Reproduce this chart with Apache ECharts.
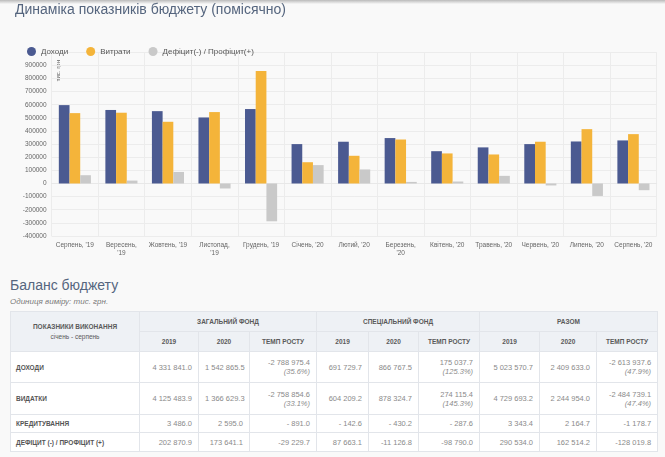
<!DOCTYPE html>
<html>
<head>
<meta charset="utf-8">
<script src="https://cdn.jsdelivr.net/npm/echarts@6/dist/echarts.min.js"></script>
<style>
  html, body { margin: 0; padding: 0; background: #f9f9f9; }
  body { width: 665px; height: 457px; position: relative; overflow: hidden; font-family: "Liberation Sans", Arial, sans-serif; }
  #topShadow { position: absolute; left: 0; top: 0; width: 665px; height: 4px; background: linear-gradient(#b9b9b9, rgba(249,249,249,0)); z-index: 5; }
  #chart { position: absolute; left: 0; top: 0; width: 665px; height: 270px; }
  #balTitle { position: absolute; left: 10px; top: 277px; font-size: 14px; line-height: 16px; color: #55657e; }
  #balSub { position: absolute; left: 10px; top: 297px; font-size: 8px; line-height: 9px; color: #7a7a7a; font-style: italic; }
  #tbl { position: absolute; left: 10px; top: 311px; border-collapse: collapse; table-layout: fixed; width: 647px; background: #fff; }
  #tbl td, #tbl th { border: 1px solid #e2e5ea; padding: 0 6px; font-size: 7.5px; color: #8a8a8a; text-align: right; white-space: nowrap; overflow: hidden; }
  #tbl th { background: #eef1f5; color: #5a5a5a; font-weight: bold; text-align: center; font-size: 6.5px; height: 19px; }
  #tbl th .sub { font-weight: normal; display: block; margin-top: 3px; }
  #tbl td.lbl { text-align: left; color: #555; font-weight: bold; font-size: 6.5px; padding-left: 5px; }
  #tbl td i { display: block; }
</style>
</head>
<body>
<div id="topShadow"></div>
<div id="chart"></div>
<div id="balTitle">Баланс бюджету</div>
<div id="balSub">Одиниця виміру: тис. грн.</div>
<table id="tbl"></table>
<script>
const months = ["Серпень, '19", "Вересень,\n'19", "Жовтень, '19", "Листопад,\n'19", "Грудень, '19", "Січень, '20", "Лютий, '20", "Березень,\n'20", "Квітень, '20", "Травень, '20", "Червень, '20", "Липень, '20", "Серпень, '20"];
const income   = [597000, 560000, 551000, 503000, 567000, 300000, 318000, 346000, 246000, 275000, 300000, 320000, 328000];
const expenses = [536000, 539000, 470000, 544000, 857000, 162000, 211000, 335000, 229000, 221000, 318000, 414000, 376000];
const balance  = [63000, 22000, 88000, -38000, -288000, 140000, 107000, 12000, 15000, 58000, -15000, -95000, -51000];
const seriesNames = ['Доходи', 'Витрати', 'Дефіцит(-) / Профіцит(+)'];

// table
const colWidths = [129, 59, 51, 67, 52, 50, 61, 60, 57, 61];
const fundNames = ['ЗАГАЛЬНИЙ ФОНД', 'СПЕЦІАЛЬНИЙ ФОНД', 'РАЗОМ'];
const subHeads = ['2019', '2020', 'ТЕМП РОСТУ'];
const rowLabels = ['ДОХОДИ', 'ВИДАТКИ', 'КРЕДИТУВАННЯ', 'ДЕФІЦИТ (-) / ПРОФІЦИТ (+)'];
const rowHeights = [31, 32, 18, 19];
const tableRows = [
  ['4 331 841.0', '1 542 865.5', ['-2 788 975.4', '(35.6%)'], '691 729.7', '866 767.5', ['175 037.7', '(125.3%)'], '5 023 570.7', '2 409 633.0', ['-2 613 937.6', '(47.9%)']],
  ['4 125 483.9', '1 366 629.3', ['-2 758 854.6', '(33.1%)'], '604 209.2', '878 324.7', ['274 115.4', '(145.3%)'], '4 729 693.2', '2 244 954.0', ['-2 484 739.1', '(47.4%)']],
  ['3 486.0', '2 595.0', '- 891.0', '- 142.6', '- 430.2', '- 287.6', '3 343.4', '2 164.7', '-1 178.7'],
  ['202 870.9', '173 641.1', '-29 229.7', '87 663.1', '-11 126.8', '-98 790.0', '290 534.0', '162 514.2', '-128 019.8']
];

let html = '<colgroup>' + colWidths.map(w => `<col style="width:${w}px">`).join('') + '</colgroup>';
html += '<tr><th rowspan="2">ПОКАЗНИКИ ВИКОНАННЯ<span class="sub">січень - серпень</span></th>' +
  fundNames.map(f => `<th colspan="3">${f}</th>`).join('') + '</tr>';
html += '<tr>' + fundNames.map(() => subHeads.map(s => `<th>${s}</th>`).join('')).join('') + '</tr>';
tableRows.forEach((r, i) => {
  html += `<tr style="height:${rowHeights[i]}px"><td class="lbl">${rowLabels[i]}</td>` +
    r.map(c => Array.isArray(c) ? `<td>${c[0]}<i>${c[1]}</i></td>` : `<td>${c}</td>`).join('') + '</tr>';
});
document.getElementById('tbl').innerHTML = html;

const chart = echarts.init(document.getElementById('chart'));
const colors = ['#4b5a91', '#f4b43a', '#c9c9c9'];
const values = [income, expenses, balance];

chart.setOption({
  animation: false,
  color: colors,
  textStyle: { fontFamily: 'Liberation Sans, Arial, sans-serif' },
  title: {
    text: 'Динаміка показників бюджету (помісячно)',
    left: 10,
    top: -2,
    textStyle: { fontSize: 14, fontWeight: 'normal', color: '#55657e' }
  },
  legend: {
    left: 22,
    top: 42,
    icon: 'circle',
    itemWidth: 9,
    itemHeight: 9,
    itemGap: 18,
    textStyle: { fontSize: 8, color: '#555' },
    data: seriesNames
  },
  graphic: [{
    type: 'text',
    left: 55,
    top: 60,
    style: { text: 'тис. грн', fontSize: 6, fill: '#666' },
    rotation: Math.PI / 2
  }],
  grid: { left: 51.6, right: 8.3, top: 52.2, bottom: 34 },
  xAxis: {
    type: 'category',
    data: months,
    axisLine: { show: true, lineStyle: { color: '#e8e8e8' } },
    axisTick: { show: false },
    splitLine: { show: true, lineStyle: { color: '#ececec' } },
    axisLabel: { fontSize: 6.5, color: '#666', margin: 5, lineHeight: 8, interval: 0 }
  },
  yAxis: {
    type: 'value',
    min: -400000,
    max: 1000000,
    interval: 100000,
    axisLine: { show: false },
    axisTick: { show: false },
    splitLine: { lineStyle: { color: '#ececec' } },
    axisLabel: { fontSize: 6.5, color: '#666', margin: 5, showMaxLabel: false, formatter: v => String(v) }
  },
  series: seriesNames.map((n, i) => ({
    name: n,
    type: 'bar',
    data: values[i],
    barWidth: 10.7,
    barGap: '0%'
  }))
});
</script>
</body>
</html>
